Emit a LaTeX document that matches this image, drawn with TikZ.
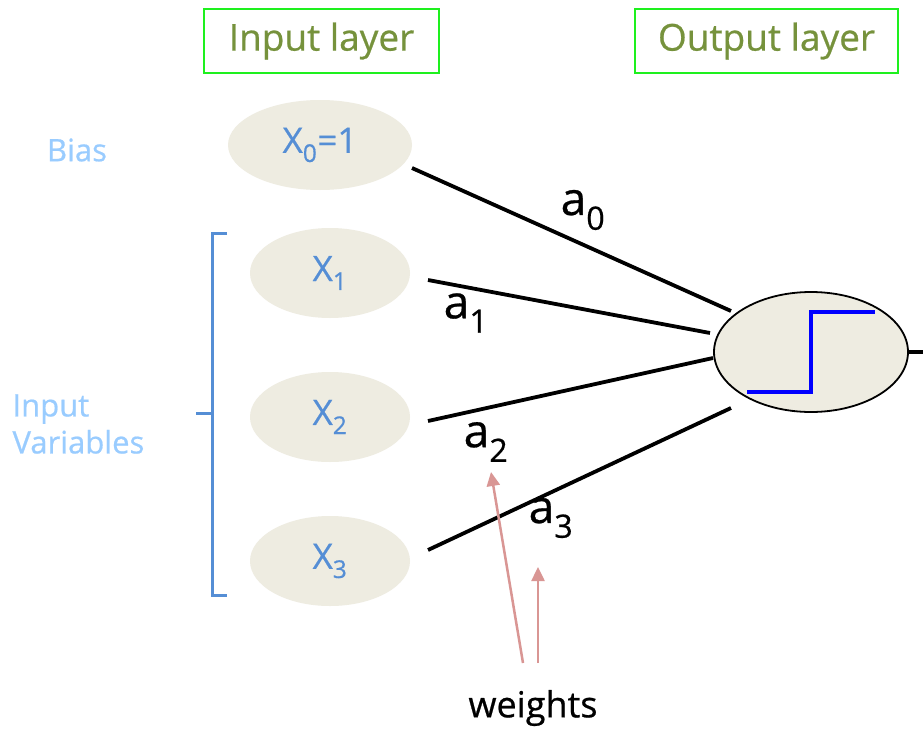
\documentclass[tikz,border=0pt]{standalone}
\usepackage{fontspec}
\setmainfont{Open Sans}[FakeBold=0.6]
\usetikzlibrary{shapes.geometric,arrows.meta}
\definecolor{boxgreen}{HTML}{1EF01E}
\definecolor{titleolive}{HTML}{76923C}
\definecolor{nodefill}{HTML}{EEECE1}
\definecolor{varblue}{HTML}{558ED5}
\definecolor{paleblue}{HTML}{99CCFF}
\definecolor{weightpink}{HTML}{D99694}
\tikzset{
  titlebox/.style={draw=boxgreen, line width=2pt, text=titleolive, font=\fontsize{37}{40}\selectfont, inner sep=0pt, anchor=north west},
  innode/.style={ellipse, fill=nodefill, inner sep=0pt, text=varblue, font=\fontsize{35}{38}\selectfont},
  sidelabel/.style={text=paleblue, font=\fontsize{31}{37}\selectfont, align=left},
  conn/.style={line width=3.8pt},
  wlabel/.style={font=\fontsize{46}{48}\selectfont},
  warrow/.style={draw=weightpink, line width=2.5pt, -{Triangle[length=14pt,width=13pt]}}
}
\begin{document}
\begin{tikzpicture}[x=1pt,y=-1pt]
\useasboundingbox (0,0) rectangle (923,736);
\fill[white] (0,0) rectangle (923,736);

% layer titles
\node[titlebox, minimum width=235pt, minimum height=64pt] (tin) at (203,8) {Input layer};
\node[titlebox, minimum width=263pt, minimum height=64pt] (tout) at (634,8) {Output layer};

% input units
\node[innode, minimum width=184pt, minimum height=90pt] (x0) at (320,145) {X\textsubscript{0}=1};
\node[innode, minimum width=160pt, minimum height=90pt] (x1) at (330,273) {X\textsubscript{1}};
\node[innode, minimum width=160pt, minimum height=90pt] (x2) at (330,417) {X\textsubscript{2}};
\node[innode, minimum width=160pt, minimum height=90pt] (x3) at (330,561) {X\textsubscript{3}};

% output unit with step activation
\node[ellipse, draw, line width=1.8pt, fill=nodefill, minimum width=194pt, minimum height=120pt, inner sep=0pt] (out) at (811,352) {};
\draw[blue, line width=3.5pt] (747,392) -- (811,392) -- (811,312) -- (875,312);
\coordinate (oend) at (930,352);
\draw[conn] (out.east) -- (oend);

% side labels
\node[sidelabel] (bias) at (77,150) {Bias};
\node[sidelabel, anchor=west] (ivars) at (9,424) {Input\\Variables};
\draw[varblue, line width=3pt] (227,233) -- (212,233) -- (212,595) -- (227,595);
\draw[varblue, line width=3pt] (212,413) -- (196,413);

% weighted connections
\coordinate (s0) at (412,168); \coordinate (e0) at (731,311);
\coordinate (s1) at (428,280); \coordinate (e1) at (710,333);
\coordinate (s2) at (428,421); \coordinate (e2) at (713,358);
\coordinate (s3) at (428,550); \coordinate (e3) at (731,408);
\draw[conn] (s0) -- (e0);
\draw[conn] (s1) -- (e1);
\draw[conn] (s2) -- (e2);
\draw[conn] (s3) -- (e3);

\node[wlabel] (a0) at (583,210) {a\textsubscript{0}};
\node[wlabel] (a1) at (466,313) {a\textsubscript{1}};
\node[wlabel] (a2) at (486,442) {a\textsubscript{2}};
\node[wlabel] (a3) at (551,518) {a\textsubscript{3}};

% weights annotation
\node[font=\fontsize{36}{38}\selectfont] (wt) at (533,708) {weights};
\coordinate (w1s) at (523,663); \coordinate (w1e) at (491,472);
\coordinate (w2s) at (538,663); \coordinate (w2e) at (538,567);
\draw[warrow] (w1s) -- (w1e);
\draw[warrow] (w2s) -- (w2e);
\end{tikzpicture}
\end{document}
